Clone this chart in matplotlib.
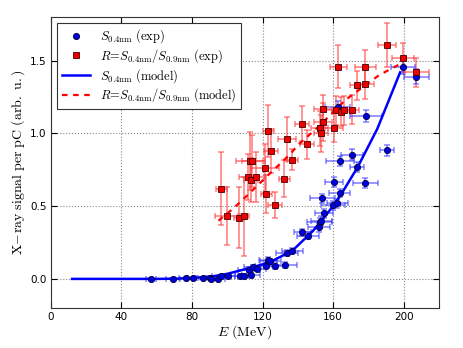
import matplotlib
matplotlib.use("Agg")
import matplotlib.pyplot as plt
from matplotlib.lines import Line2D
import numpy as np

plt.rcParams['mathtext.fontset'] = 'cm'
plt.rcParams['font.family'] = ['DejaVu Sans']

# ---- S_0.4nm experimental (blue circles) ----
blue_E = [56.8, 69.0, 76.5, 80.6, 86.0, 90.0, 91.0, 94.6, 96.6, 100.5, 107.0, 109.3,
          112.3, 113.3, 114.3, 117.1, 121.8, 123.0, 124.5, 127.3, 132.6, 133.9, 136.9,
          142.6, 145.8, 152.0, 152.4, 153.4, 154.7, 153.9, 160.0, 162.4, 163.7, 160.5,
          178.3, 173.8, 164.1, 170.7, 190.7, 178.5, 162.5, 199.6, 207.2]
blue_S = [0.000, 0.000, 0.006, 0.006, 0.006, 0.008, 0.000, 0.000, 0.020, 0.018, 0.020, 0.020,
          0.064, 0.030, 0.083, 0.069, 0.092, 0.133, 0.120, 0.087, 0.096, 0.179, 0.195,
          0.321, 0.298, 0.355, 0.390, 0.400, 0.450, 0.555, 0.505, 0.520, 0.590, 0.665,
          0.660, 0.770, 0.810, 0.855, 0.883, 1.120, 1.180, 1.460, 1.390]
blue_xerr = [3, 4, 4, 3, 4, 3, 4, 4, 5, 4, 5, 5,
             6, 5, 5, 5, 6, 5, 6, 6, 7, 6, 6,
             5, 6, 6, 7, 6, 5, 7, 7, 6, 6, 5,
             7, 4, 8, 6, 4, 9, 7, 7, 7]
blue_yerr = [0.008, 0.008, 0.008, 0.008, 0.008, 0.008, 0.008, 0.008, 0.01, 0.01, 0.012, 0.012,
             0.015, 0.015, 0.015, 0.015, 0.02, 0.02, 0.02, 0.02, 0.02, 0.02, 0.02,
             0.025, 0.025, 0.03, 0.03, 0.03, 0.03, 0.03, 0.03, 0.03, 0.03, 0.035,
             0.035, 0.035, 0.035, 0.035, 0.035, 0.04, 0.04, 0.05, 0.05]

# ---- R = S_0.4nm / S_0.9nm experimental (red squares) ----
red_E = [96.6, 100.1, 106.7, 109.3, 111.8, 113.1, 113.3, 114.2, 116.2, 121.2, 122.2,
         123.3, 125.0, 126.9, 132.3, 134.0, 136.9, 142.5, 145.4, 152.3, 153.0, 154.3,
         154.3, 160.5, 161.9, 163.0, 164.6, 166.3, 170.7, 173.7, 178.3, 178.3, 190.5,
         199.6, 207.2]
red_R = [0.62, 0.43, 0.42, 0.43, 0.70, 0.81, 0.68, 0.81, 0.70, 0.76, 0.585,
         1.016, 0.88, 0.51, 0.69, 0.96, 0.82, 1.067, 0.925, 1.035, 1.00, 1.08,
         1.165, 1.04, 1.16, 1.46, 1.15, 1.16, 1.163, 1.33, 1.455, 1.34, 1.61,
         1.52, 1.42]
red_xerr = [3, 7, 3, 3, 5, 8, 4, 6, 5, 8, 3,
            3, 4, 4, 3, 5, 3, 4, 4, 5, 4, 5,
            5, 5, 6, 5, 5, 5, 4, 4, 6, 5, 5,
            6, 7]
red_yerr = [0.25, 0.20, 0.21, 0.27, 0.16, 0.20, 0.15, 0.18, 0.17, 0.17, 0.13,
            0.18, 0.15, 0.09, 0.13, 0.15, 0.07, 0.12, 0.10, 0.12, 0.13, 0.13,
            0.10, 0.10, 0.10, 0.15, 0.10, 0.10, 0.10, 0.10, 0.12, 0.10, 0.15,
            0.10, 0.10]

# ---- model curves ----
modelS_E = [12, 40, 60, 72, 80, 92, 100, 111, 120, 126, 137, 148.6, 158, 164, 174, 185, 192, 198]
modelS_S = [0.0, 0.0, 0.0, 0.002, 0.006, 0.018, 0.035, 0.069, 0.10, 0.126, 0.195, 0.33,
            0.47, 0.57, 0.77, 1.03, 1.24, 1.42]
modelR_E = [95, 103, 111, 122, 135, 141, 152, 167, 186, 200]
modelR_R = [0.40, 0.48, 0.57, 0.70, 0.85, 0.93, 1.05, 1.23, 1.40, 1.49]

xticks = [0, 40, 80, 120, 160, 200]
yticks = [0.0, 0.5, 1.0, 1.5]

fig = plt.figure(figsize=(4.63, 3.48), dpi=100)
ax = fig.add_axes([0.110, 0.115, 0.838, 0.836])

ax.errorbar(red_E, red_R, xerr=red_xerr, yerr=red_yerr, fmt='none',
            ecolor=(1, 0.2, 0.2, 0.55), elinewidth=1.3, capsize=2.5, capthick=1.2, zorder=2)
ax.errorbar(blue_E, blue_S, xerr=blue_xerr, yerr=blue_yerr, fmt='none',
            ecolor=(0.2, 0.2, 1, 0.55), elinewidth=1.3, capsize=2.5, capthick=1.2, zorder=2)

ax.plot(modelS_E, modelS_S, '-', color='#0000ff', lw=1.8, zorder=3)
ax.plot(modelR_E, modelR_R, '--', color='#ff0000', lw=1.6, dashes=(2.5, 2.5), zorder=3)

ax.plot(blue_E, blue_S, 'o', color='#0000dd', mec='#000044', mew=0.6, ms=4.5, zorder=4)
ax.plot(red_E, red_R, 's', color='#ee0000', mec='#440000', mew=0.6, ms=4.5, zorder=4)

ax.set_xlim(0, 220)
ax.set_ylim(-0.2, 1.8)
ax.set_xticks(xticks)
ax.set_yticks(yticks)
ax.set_xticklabels([str(t) for t in xticks])
ax.set_yticklabels(['%.1f' % t for t in yticks])
ax.tick_params(direction='in', top=True, right=True, length=4, labelsize=7.5, pad=3)
ax.grid(True, color='#888888', linestyle=':', linewidth=0.8)
for s in ax.spines.values():
    s.set_color('#333333')

ax.set_xlabel(r'$E\ \mathrm{(MeV)}$', fontsize=10, labelpad=1)
ax.set_ylabel(r'$\mathrm{X\!-\!ray\ signal\ per\ pC\ (arb.\ u.)}$', fontsize=10, labelpad=2)

handles = [
    Line2D([], [], marker='o', ls='none', color='#0000dd', mec='#000044', mew=0.6, ms=4.5),
    Line2D([], [], marker='s', ls='none', color='#ee0000', mec='#440000', mew=0.6, ms=4.5),
    Line2D([], [], ls='-', color='#0000ff', lw=1.8),
    Line2D([], [], ls='--', color='#ff0000', lw=1.6, dashes=(2.5, 2.5)),
]
labels = [
    r'$S_{0.4\mathrm{nm}}\ \mathrm{(exp)}$',
    r'$R\!=\!S_{0.4\mathrm{nm}}/S_{0.9\mathrm{nm}}\ \mathrm{(exp)}$',
    r'$S_{0.4\mathrm{nm}}\ \mathrm{(model)}$',
    r'$R\!=\!S_{0.4\mathrm{nm}}/S_{0.9\mathrm{nm}}\ \mathrm{(model)}$',
]
leg = ax.legend(handles, labels, loc='upper left', fontsize=9, numpoints=1,
                fancybox=False, framealpha=1, edgecolor='#333333',
                handlelength=2.3, labelspacing=0.15, borderpad=0.35, borderaxespad=0.5)
leg.get_frame().set_linewidth(0.8)

fig.savefig('out.png', dpi=100)
